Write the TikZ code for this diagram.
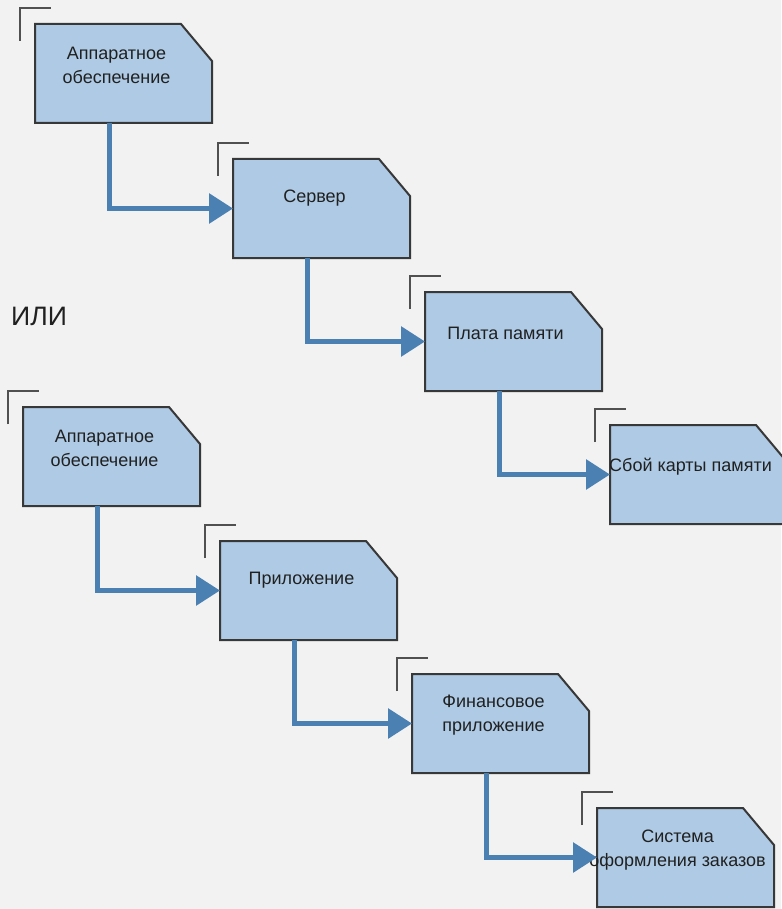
\documentclass[tikz,border=0pt]{standalone}
\usepackage{fontspec}
\setmainfont{Liberation Sans}
\usetikzlibrary{calc,arrows.meta}
\definecolor{bg}{HTML}{F2F2F2}
\definecolor{boxfill}{HTML}{AECAE4}
\definecolor{boxedge}{HTML}{383838}
\definecolor{conncol}{HTML}{4A80B2}
\definecolor{brkcol}{HTML}{505050}
\definecolor{txtcol}{HTML}{202020}
\newcommand\cutbox[1]{%
  \draw[boxline] (#1.north west) -- ($(#1.north east)+(-31,0)$) -- ($(#1.north east)+(0,37)$) -- (#1.south east) -- (#1.south west) -- cycle;
  \draw[brk] ($(#1.north west)+(-15,17)$) |- ($(#1.north west)+(16,-16)$);}
\begin{document}
\begin{tikzpicture}[x=0.75pt,y=-0.75pt,
  boxarea/.style={anchor=north west,minimum width=132.75pt,minimum height=74.25pt,inner sep=0pt,outer sep=0pt,draw=none},
  boxline/.style={draw=boxedge,fill=boxfill,line width=1.5pt,line join=miter},
  brk/.style={draw=brkcol,line width=1.5pt},
  lbl/.style={align=center,text=txtcol,inner sep=0pt,font=\fontsize{13.5}{18}\selectfont},
  conn/.style={draw=conncol,line width=3.75pt,-{Triangle[length=18pt,width=22pt]}}]
\fill[bg] (0,0) rectangle (781,909);
\useasboundingbox (0,0) rectangle (781,909);
% boxes
\node[boxarea] (b1) at (35,24) {};
\node[boxarea] (b2) at (233,159) {};
\node[boxarea] (b3) at (425,292) {};
\node[boxarea] (b4) at (610,425) {};
\node[boxarea] (b5) at (23,407) {};
\node[boxarea] (b6) at (220,541) {};
\node[boxarea] (b7) at (412,674) {};
\node[boxarea] (b8) at (597,808) {};
\cutbox{b1}\cutbox{b2}\cutbox{b3}\cutbox{b4}
\cutbox{b5}\cutbox{b6}\cutbox{b7}\cutbox{b8}
% labels
\node[lbl] (t1) at ($(b1.north)+(-7,41)$) {Аппаратное\\обеспечение};
\node[lbl] (t2) at ($(b2.north)+(-7,39)$) {Сервер};
\node[lbl] (t3) at ($(b3.north)+(-8,41)$) {Плата памяти};
\node[lbl] (t4) at ($(b4.north)+(-8,42)$) {Сбой карты памяти};
\node[lbl] (t5) at ($(b5.north)+(-7,41)$) {Аппаратное\\обеспечение};
\node[lbl] (t6) at ($(b6.north)+(-7,39)$) {Приложение};
\node[lbl] (t7) at ($(b7.north)+(-7,41)$) {Финансовое\\приложение};
\node[lbl] (t8) at ($(b8.north)+(-8,42)$) {Система\\оформления заказов};
\node[text=txtcol,inner sep=0pt,font=\fontsize{20}{24}\selectfont] (ili) at (39,316) {ИЛИ};
% connectors
\draw[conn] ($(b1.south)+(-14.5,0)$) |- (b2.west);
\draw[conn] ($(b2.south)+(-14.5,0)$) |- (b3.west);
\draw[conn] ($(b3.south)+(-14.5,0)$) |- (b4.west);
\draw[conn] ($(b5.south)+(-14.5,0)$) |- (b6.west);
\draw[conn] ($(b6.south)+(-14.5,0)$) |- (b7.west);
\draw[conn] ($(b7.south)+(-14.5,0)$) |- (b8.west);
\end{tikzpicture}
\end{document}
